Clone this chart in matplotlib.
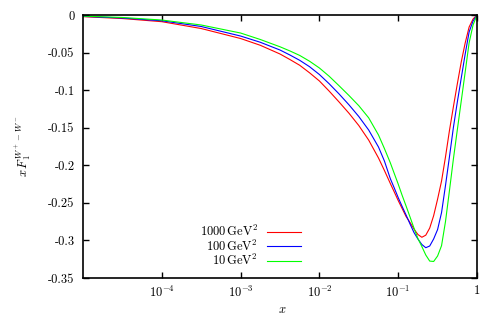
import numpy as np
import matplotlib
matplotlib.use("Agg")
import matplotlib.pyplot as plt

log10_x = [-5, -4.5, -4, -3.5, -3, -2.75,
           -2.5, -2.375, -2.25, -2.125, -2, -1.875, -1.75, -1.625, -1.5, -1.375,
           -1.25, -1.175, -1.1, -1.05,
           -1.0, -0.95, -0.9, -0.85, -0.8, -0.75, -0.7, -0.65, -0.6, -0.55, -0.5,
           -0.45, -0.4, -0.35, -0.3, -0.25, -0.2, -0.15, -0.1, -0.05, 0]

# x F1^{W+ - W-} for three scales
f_1000 = [-0.0022, -0.0047, -0.0089, -0.018, -0.0313, -0.0403,
          -0.0519, -0.0592, -0.0669, -0.0769, -0.0878, -0.1014, -0.1158, -0.1307, -0.1471, -0.1664,
          -0.1903, -0.2069, -0.2242, -0.2355,
          -0.2469, -0.2575, -0.2682, -0.2761, -0.2848, -0.2921, -0.2958, -0.293, -0.2835, -0.267, -0.245,
          -0.221, -0.189, -0.154, -0.1224, -0.0918, -0.0625, -0.0373, -0.016, -0.0053, 0.0]
f_100 = [-0.0018, -0.0040, -0.0077, -0.0153, -0.028, -0.0363,
         -0.0466, -0.0532, -0.0603, -0.0688, -0.0792, -0.0916, -0.1051, -0.1195, -0.1351, -0.153,
         -0.1757, -0.1943, -0.2178, -0.2302,
         -0.243, -0.2548, -0.2662, -0.2781, -0.2894, -0.2981, -0.3054, -0.3097, -0.3074, -0.298, -0.2855,
         -0.263, -0.227, -0.189, -0.150, -0.116, -0.084, -0.052, -0.0226, -0.008, 0.0]
f_10 = [-0.0015, -0.0033, -0.0067, -0.0133, -0.024, -0.0326,
        -0.0423, -0.0478, -0.0538, -0.0615, -0.0705, -0.0816, -0.0942, -0.1071, -0.1207, -0.1368,
        -0.1597, -0.1777, -0.1967, -0.2109,
        -0.225, -0.240, -0.2542, -0.2688, -0.2835, -0.2974, -0.3081, -0.3194, -0.3275, -0.328, -0.3207,
        -0.307, -0.275, -0.234, -0.192, -0.153, -0.1145, -0.076, -0.037, -0.0133, 0.0]

labels = [r"$1000\,\mathrm{GeV}^2$", r"$100\,\mathrm{GeV}^2$", r"$10\,\mathrm{GeV}^2$"]
colors = ["#ff0000", "#0000ff", "#00ff00"]

x_ticks = [1e-4, 1e-3, 1e-2, 1e-1, 1]
x_tick_labels = [r"$10^{-4}$", r"$10^{-3}$", r"$10^{-2}$", r"$10^{-1}$", "1"]
y_ticks = [0, -0.05, -0.1, -0.15, -0.2, -0.25, -0.3, -0.35]
y_tick_labels = ["0", "-0.05", "-0.1", "-0.15", "-0.2", "-0.25", "-0.3", "-0.35"]

plt.rcParams['font.family'] = 'cmr10'
plt.rcParams['mathtext.fontset'] = 'cm'
plt.rcParams['font.size'] = 9

fig = plt.figure(figsize=(4.96, 3.19), dpi=100)
ax = fig.add_axes([83 / 496, 41 / 319, 394 / 496, 263 / 319])

x = 10 ** np.array(log10_x)
for ys, col in zip([f_1000, f_100, f_10], colors):
    ax.plot(x, ys, color=col, lw=0.8)

ax.set_xscale('log')
ax.set_xlim(1e-5, 1)
ax.set_ylim(-0.35, 0)
ax.set_xticks(x_ticks)
ax.set_xticklabels(x_tick_labels)
ax.xaxis.set_minor_locator(matplotlib.ticker.NullLocator())
ax.set_yticks(y_ticks)
ax.set_yticklabels(y_tick_labels)

ax.tick_params(direction='in', length=4, width=1.0, top=True, right=True)
ax.tick_params(axis='y', pad=6)
ax.tick_params(axis='x', pad=5)
for sp in ax.spines.values():
    sp.set_linewidth(1.2)

ax.set_xlabel(r"$x$")
ax.xaxis.set_label_coords(0.505, -0.10)
ax.set_ylabel(r"$x\,F_1^{W^+-W^-}$")
ax.yaxis.set_label_coords(-0.127, 0.5)

# gnuplot-style key: right-justified text, sample line to the right
key_rows = [0.176, 0.1217, 0.0658]
for lab, col, yk in zip(labels, colors, key_rows):
    ax.text(0.444, yk, lab, ha='right', va='center', transform=ax.transAxes)
    ax.plot([0.467, 0.553], [yk, yk], color=col, lw=0.8, transform=ax.transAxes)

fig.savefig("out.png", dpi=100)
